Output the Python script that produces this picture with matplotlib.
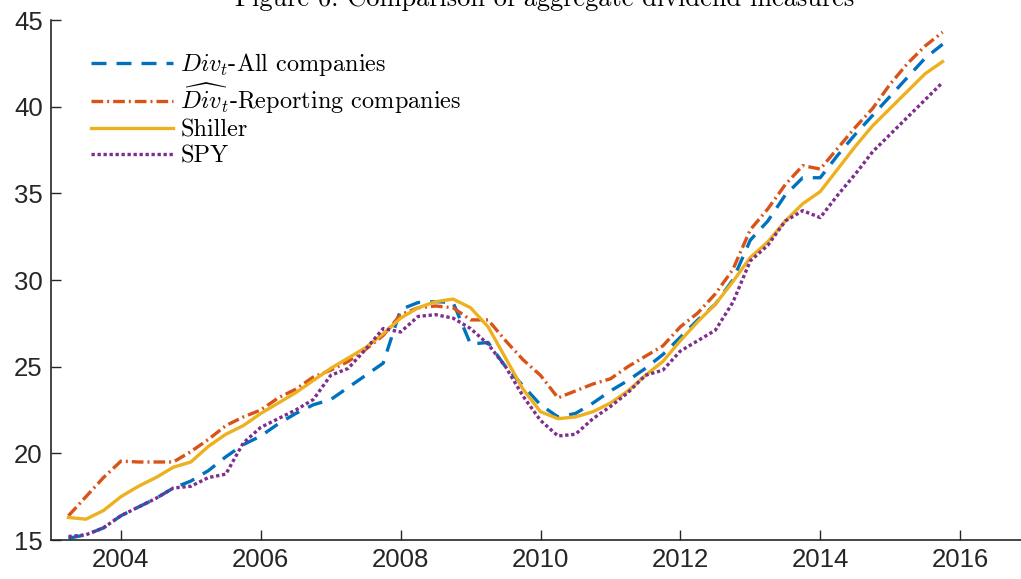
import numpy as np
import matplotlib
matplotlib.use("Agg")
import matplotlib.pyplot as plt
from matplotlib import font_manager

# ---- data (quarterly, 2003Q1 .. 2015Q3) ----
dates = [2003.25 + 0.25 * i for i in range(51)]

div_all = [15.1, 15.3, 15.7, 16.4, 16.9, 17.4, 18.0, 18.4, 19.0, 19.8,
           20.5, 21.0, 21.7, 22.3, 22.8, 23.1, 23.8, 24.5, 25.2, 28.3,
           28.7, 28.75, 28.7, 26.3, 26.4, 25.0, 23.9, 22.8, 22.1, 22.3,
           22.9, 23.6, 24.2, 24.9, 25.7, 26.7, 27.7, 28.6, 30.0, 32.3,
           33.4, 34.9, 35.9, 35.9, 37.2, 38.4, 39.5, 40.6, 41.7, 42.8, 43.6]

div_rep = [16.4, 17.5, 18.6, 19.55, 19.5, 19.5, 19.5, 20.1, 20.8, 21.6,
           22.1, 22.5, 23.2, 23.7, 24.4, 24.8, 25.3, 26.0, 26.8, 28.0,
           28.4, 28.5, 28.4, 27.7, 27.7, 26.5, 25.4, 24.5, 23.2, 23.6,
           24.0, 24.3, 25.0, 25.6, 26.2, 27.3, 28.1, 29.2, 30.6, 32.9,
           34.1, 35.5, 36.6, 36.4, 37.6, 38.8, 39.9, 41.3, 42.5, 43.5, 44.3]

shiller = [16.3, 16.2, 16.7, 17.5, 18.1, 18.6, 19.2, 19.5, 20.4, 21.1,
           21.6, 22.3, 22.9, 23.5, 24.2, 24.9, 25.5, 26.1, 26.9, 27.8,
           28.4, 28.75, 28.9, 28.4, 27.3, 25.5, 23.7, 22.4, 22.0, 22.1,
           22.4, 22.9, 23.6, 24.5, 25.3, 26.5, 27.6, 28.6, 29.9, 31.3,
           32.2, 33.4, 34.4, 35.1, 36.4, 37.7, 38.9, 39.9, 40.9, 41.9, 42.6]

spy = [15.2, 15.3, 15.7, 16.4, 16.9, 17.4, 18.0, 18.1, 18.6, 18.8,
       20.6, 21.5, 22.0, 22.5, 23.1, 24.5, 24.9, 26.0, 27.2, 27.0,
       27.9, 28.0, 27.8, 27.2, 26.3, 25.0, 23.3, 21.9, 21.0, 21.1,
       22.0, 22.7, 23.5, 24.5, 24.8, 25.9, 26.5, 27.1, 28.7, 31.1,
       32.0, 33.4, 34.0, 33.6, 34.9, 36.1, 37.4, 38.4, 39.4, 40.4, 41.4]

labels = [r"$Div_t$-All companies", r"$\widehat{Div}_t$-Reporting companies",
          "Shiller", "SPY"]
xticks = [2004, 2006, 2008, 2010, 2012, 2014, 2016]
yticks = [15, 20, 25, 30, 35, 40, 45]
title = "Figure 6: Comparison of aggregate dividend measures"

# ---- style ----
plt.rcParams["mathtext.fontset"] = "cm"
available = {f.name for f in font_manager.fontManager.ttflist}
tick_font = "Liberation Sans Narrow" if "Liberation Sans Narrow" in available else "Liberation Sans"

W, H = 1021, 579
fig = plt.figure(figsize=(W / 100, H / 100), dpi=100)
x0, x1 = 51, 1030
y0, y1 = 540, 20
ax = fig.add_axes([x0 / W, 1 - y0 / H, (x1 - x0) / W, (y0 - y1) / H])

lw = 2.4
ax.plot(dates, div_all, color="#0072BD", lw=lw, linestyle=(0, (4.5, 3.0)), label=labels[0])
ax.plot(dates, div_rep, color="#D95319", lw=lw, linestyle=(0, (3.5, 1.2, 0.6, 1.2)), label=labels[1])
ax.plot(dates, shiller, color="#EDB120", lw=lw, linestyle="-", label=labels[2])
ax.plot(dates, spy, color="#7E2F8E", lw=lw, linestyle=(0, (1.0, 0.8)), label=labels[3])

ax.set_xlim(2003, 2017)
ax.set_ylim(15, 45)
ax.set_xticks(xticks)
ax.set_yticks(yticks)
ax.tick_params(direction="in", length=7, width=1.0, colors="#262626",
               labelsize=18.5, pad=6)
for lab in ax.get_xticklabels() + ax.get_yticklabels():
    lab.set_fontfamily(tick_font)
    lab.set_color("#262626")
ax.spines["top"].set_visible(False)
ax.spines["right"].set_visible(False)
for s in ("left", "bottom"):
    ax.spines[s].set_linewidth(1.2)
    ax.spines[s].set_color("#262626")

leg = ax.legend(loc="upper left", bbox_to_anchor=(0.023, 0.973), frameon=False,
                prop={"family": "cmr10", "size": 17.5}, handlelength=3.4,
                handletextpad=0.3, labelspacing=0.15, borderaxespad=0.3)

fig.text(545 / W, 1 - 6 / H, title, ha="center", va="baseline",
         family="cmr10", fontsize=19, color="black")

fig.savefig("out.png", dpi=100)
